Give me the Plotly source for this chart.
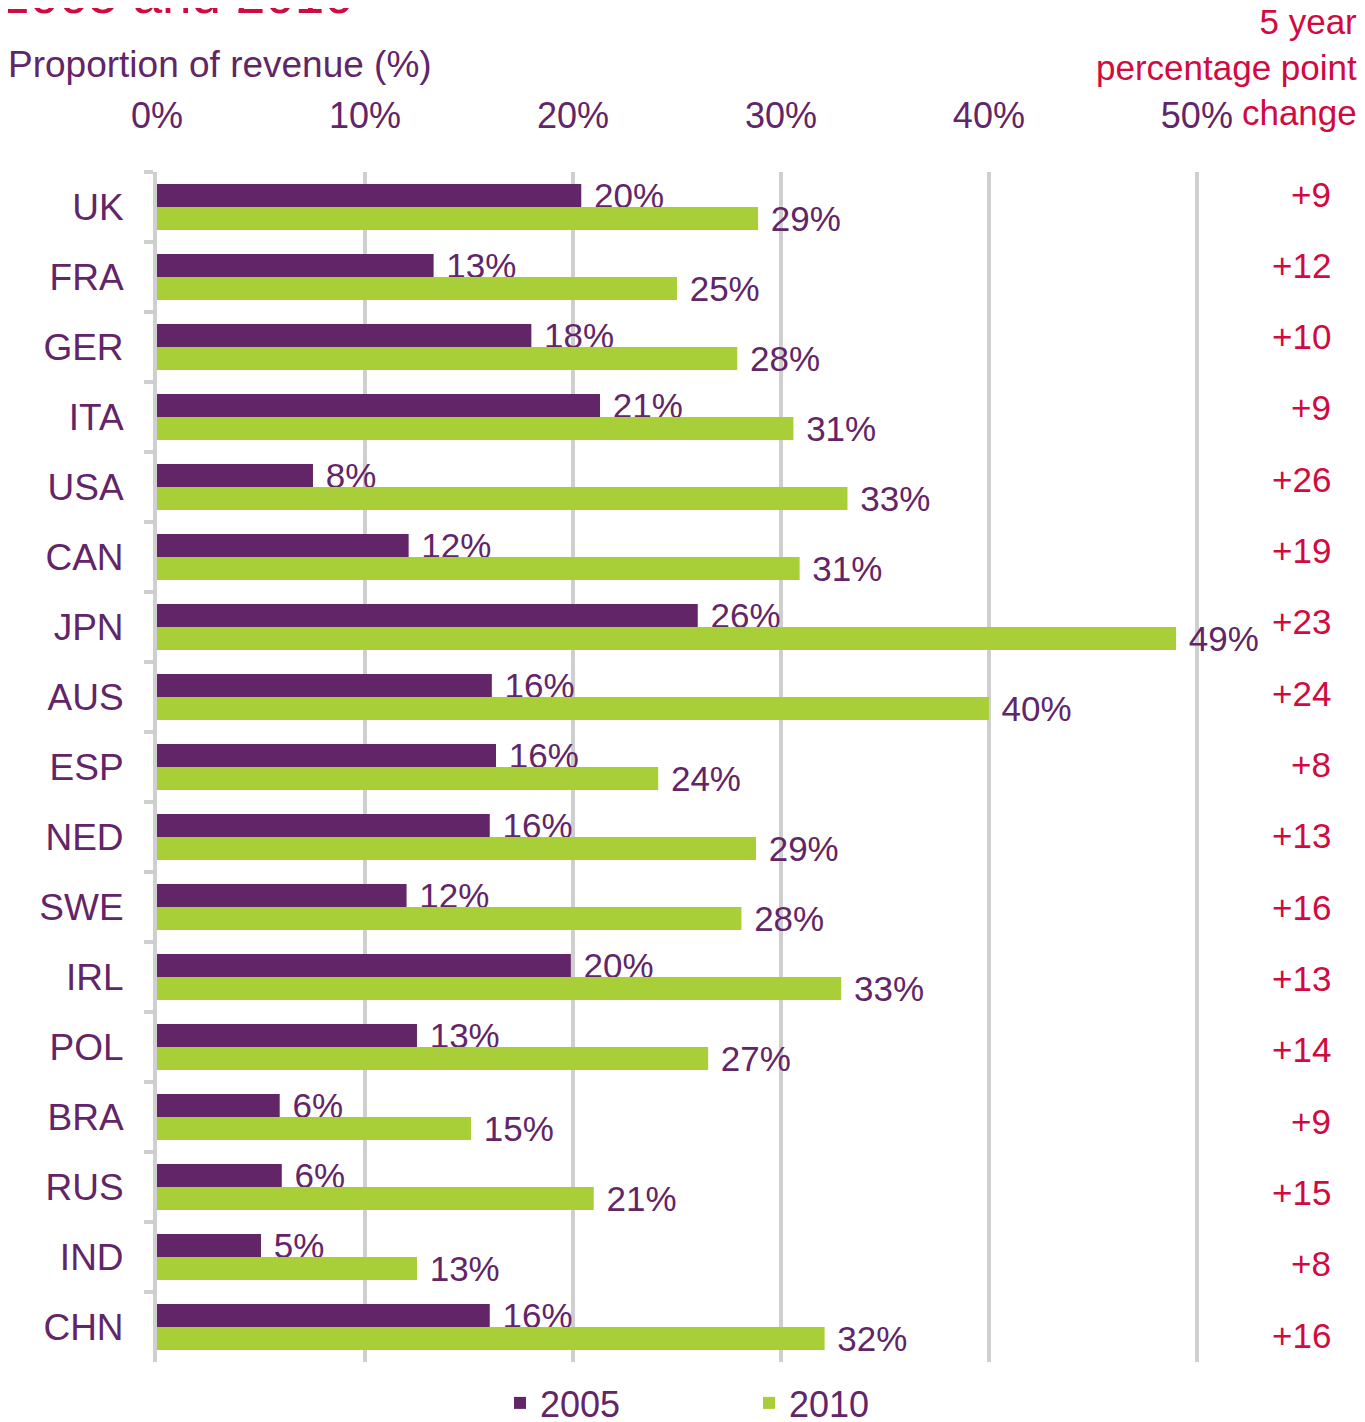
import plotly.graph_objects as go

countries = ["UK", "FRA", "GER", "ITA", "USA", "CAN", "JPN", "AUS", "ESP", "NED",
             "SWE", "IRL", "POL", "BRA", "RUS", "IND", "CHN"]
v2005 = [20.4, 13.3, 18.0, 21.3, 7.5, 12.1, 26.0, 16.1, 16.3, 16.0, 12.0, 19.9, 12.5, 5.9, 6.0, 5.0, 16.0]
v2010 = [28.9, 25.0, 27.9, 30.6, 33.2, 30.9, 49.0, 40.0, 24.1, 28.8, 28.1, 32.9, 26.5, 15.1, 21.0, 12.5, 32.1]
lab2005 = ["20%", "13%", "18%", "21%", "8%", "12%", "26%", "16%", "16%", "16%", "12%", "20%", "13%", "6%", "6%", "5%", "16%"]
lab2010 = ["29%", "25%", "28%", "31%", "33%", "31%", "49%", "40%", "24%", "29%", "28%", "33%", "27%", "15%", "21%", "13%", "32%"]
changes = ["+9", "+12", "+10", "+9", "+26", "+19", "+23", "+24", "+8", "+13", "+16", "+13", "+14", "+9", "+15", "+8", "+16"]
xticks = [0, 10, 20, 30, 40, 50]
xticklabels = ["0%", "10%", "20%", "30%", "40%", "50%"]

PURPLE = "#622567"
GREEN = "#A9CF38"
RED = "#D10A3F"
GRID = "#CFCFCF"
FONT = "Liberation Sans, Arial, sans-serif"

# the page body has an 8px margin, so the figure is drawn 8px right/down
OFF = 8
W, H = 1365, 1422
XMAX = 50.15
ML, MT = 157 - OFF, 172 - OFF
MR = W - (1197 + 3 - OFF)
MB = H - (1362 - OFF)
PW = W - ML - MR
PH = H - MT - MB


def px_x(p):
    return (p - OFF - ML) / PW


def px_y(p):
    return (H - MB - (p - OFF)) / PH


fig = go.Figure()
fig.add_trace(go.Bar(
    y=countries, x=v2005, orientation="h", name="2005",
    marker=dict(color=PURPLE, line=dict(width=0)),
    text=["\u00a0" + t for t in lab2005], textposition="outside",
    textfont=dict(color=PURPLE, size=35, family=FONT),
    constraintext="none", cliponaxis=False,
))
fig.add_trace(go.Bar(
    y=countries, x=v2010, orientation="h", name="2010",
    marker=dict(color=GREEN, line=dict(width=0)),
    text=["\u00a0" + t for t in lab2010], textposition="outside",
    textfont=dict(color=PURPLE, size=35, family=FONT),
    constraintext="none", cliponaxis=False,
))

annotations = []
n = len(countries)
for i, (c, ch) in enumerate(zip(countries, changes)):
    annotations.append(dict(
        x=px_x(1333), xref="paper", xanchor="right",
        y=c, yref="y", yanchor="middle",
        yshift=13 - 21 * i / (n - 1),
        text=ch, showarrow=False,
        font=dict(color=RED, size=35, family=FONT),
    ))

annotations.append(dict(
    x=px_x(1359), xref="paper", xanchor="right",
    y=px_y(0), yref="paper", yanchor="top",
    text="5 year<br>percentage point<br>change", align="right",
    showarrow=False, font=dict(color=RED, size=35, family=FONT),
))
annotations.append(dict(
    x=px_x(6), xref="paper", xanchor="left",
    y=px_y(64), yref="paper", yanchor="middle",
    text="Proportion of revenue (%)", showarrow=False,
    font=dict(color=PURPLE, size=37, family=FONT),
))
annotations.append(dict(
    x=px_x(-2), xref="paper", xanchor="left",
    y=px_y(26), yref="paper", yanchor="bottom",
    text="2005 and 2010", showarrow=False,
    font=dict(color=RED, size=53, family=FONT),
))

fig.update_layout(
    width=W, height=H,
    margin=dict(l=ML, r=MR, t=MT, b=MB, autoexpand=False),
    paper_bgcolor="white", plot_bgcolor="white",
    barmode="group", bargap=0.34, bargroupgap=0,
    font=dict(family=FONT, color=PURPLE),
    showlegend=True,
    legend=dict(
        orientation="h", x=px_x(500), xanchor="left",
        y=px_y(1403), yanchor="middle",
        font=dict(size=36, color=PURPLE, family=FONT),
        entrywidth=204, itemclick=False,
    ),
    annotations=annotations,
    xaxis=dict(
        side="top", range=[0, XMAX], tickvals=xticks, ticktext=xticklabels,
        showgrid=True, gridcolor=GRID, gridwidth=4, zeroline=False,
        ticks="", ticklabelstandoff=36,
        tickfont=dict(size=36, color=PURPLE, family=FONT),
        showline=False, fixedrange=True,
    ),
    yaxis=dict(
        autorange="reversed", showgrid=False, zeroline=False,
        showline=True, linecolor=GRID, linewidth=4,
        ticks="outside", tickson="boundaries", ticklen=9, tickwidth=4, tickcolor=GRID,
        ticklabelstandoff=22,
        tickfont=dict(size=37, color=PURPLE, family=FONT),
        fixedrange=True,
    ),
)

fig.write_html("out.html")
